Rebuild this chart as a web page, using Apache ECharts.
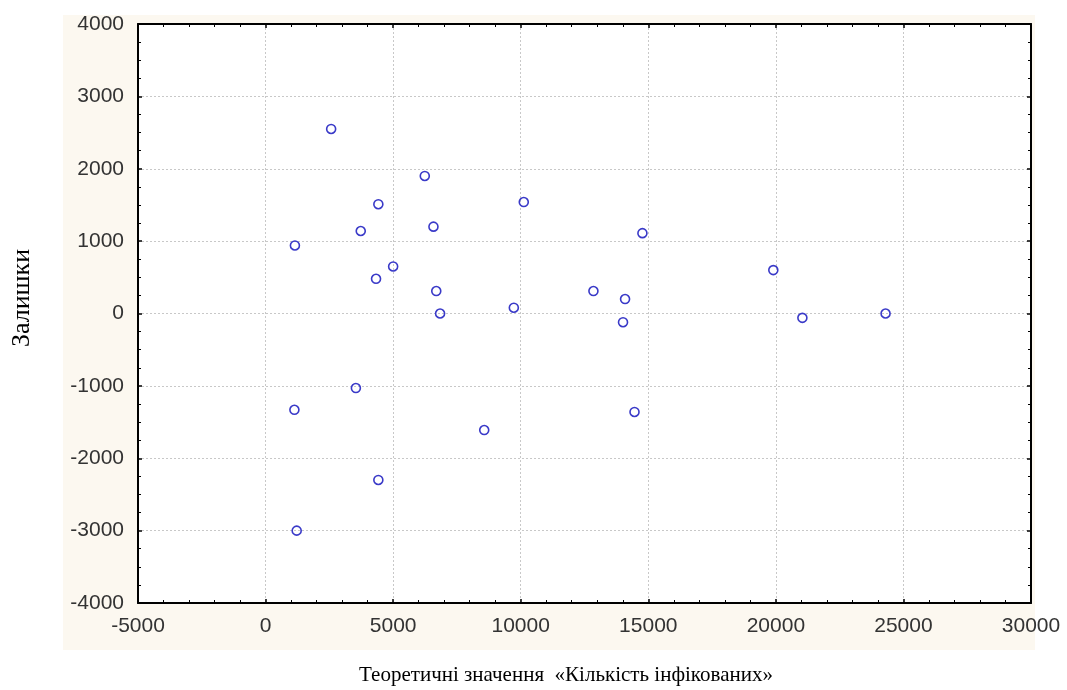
<!DOCTYPE html>
<html>
<head>
<meta charset="utf-8">
<script src="https://cdn.jsdelivr.net/npm/echarts@6/dist/echarts.min.js"></script>
<style>
html,body{margin:0;padding:0;background:#fff;}
#chart{width:1067px;height:690px;}
</style>
</head>
<body>
<div id="chart"></div>
<script>
// Theoretical values (x) and residuals (y)
const theoretical = [2570, 6240, 4420, 10120, 1150, 3730, 6580, 14770, 5000, 4330, 6690, 6840, 9730, 12850, 14090, 14010, 19900, 21040, 24300, 3540, 1130, 8570, 14460, 4420, 1220];
const residuals   = [2550, 1900, 1510, 1540, 940, 1140, 1200, 1110, 650, 480, 310, 0, 80, 310, 200, -120, 600, -60, 0, -1030, -1330, -1610, -1360, -2300, -3000];
const xTicks = [-5000, 0, 5000, 10000, 15000, 20000, 25000, 30000];
const yTicks = [-4000, -3000, -2000, -1000, 0, 1000, 2000, 3000, 4000];
const xTitle = 'Теоретичні значення  «Кількість інфікованих»';
const yTitle = 'Залишки';

const points = theoretical.map((x, i) => [x, residuals[i]]);
const labelFont = {fontFamily: 'Liberation Sans', fontSize: 21, color: '#333'};
const fmt = v => String(v);

function axisBase(opts) {
  return Object.assign({
    type: 'value',
    axisLine: {show: true, onZero: false, lineStyle: {color: '#000', width: 2}},
    axisTick: {show: true, inside: true, length: 4, lineStyle: {color: '#000', width: 1.5}},
    minorTick: {show: true, splitNumber: 5, length: 3, lineStyle: {color: '#000', width: 1}},
    splitLine: {show: false},
    minorSplitLine: {show: false}
  }, opts);
}

const chart = echarts.init(document.getElementById('chart'));
chart.setOption({
  animation: false,
  backgroundColor: '#fff',
  graphic: [
    {type: 'rect', z: -10, shape: {x: 63, y: 15, width: 972, height: 635}, style: {fill: '#fcf8f0'}},
    {type: 'text', x: 566, y: 675, style: {text: xTitle, font: '21px "Liberation Serif"', fill: '#000', textAlign: 'center', textVerticalAlign: 'middle'}},
    {type: 'text', x: 22, y: 298, rotation: Math.PI / 2, style: {text: yTitle, font: '26px "Liberation Serif"', fill: '#000', textAlign: 'center', textVerticalAlign: 'middle'}}
  ],
  grid: {left: 138, right: 36, top: 24, bottom: 87, show: true, backgroundColor: '#fff', borderWidth: 0},
  xAxis: [
    axisBase({
      position: 'bottom', min: xTicks[0], max: xTicks[xTicks.length - 1], interval: 5000,
      axisLabel: Object.assign({margin: 13, formatter: fmt}, labelFont),
      splitLine: {show: true, lineStyle: {color: '#c8c8c8', width: 1, type: [2, 2]}}
    }),
    axisBase({
      position: 'top', min: xTicks[0], max: xTicks[xTicks.length - 1], interval: 5000,
      axisLabel: {show: false}
    })
  ],
  yAxis: [
    axisBase({
      position: 'left', min: yTicks[0], max: yTicks[yTicks.length - 1], interval: 1000,
      minorTick: {show: true, splitNumber: 4, length: 3, lineStyle: {color: '#000', width: 1}},
      axisLabel: Object.assign({margin: 14, formatter: fmt}, labelFont),
      splitLine: {show: true, lineStyle: {color: '#c8c8c8', width: 1, type: [2, 2]}}
    }),
    axisBase({
      position: 'right', min: yTicks[0], max: yTicks[yTicks.length - 1], interval: 1000,
      minorTick: {show: true, splitNumber: 4, length: 3, lineStyle: {color: '#000', width: 1}},
      axisLabel: {show: false}
    })
  ],
  series: [{
    type: 'scatter',
    xAxisIndex: 0, yAxisIndex: 0,
    data: points,
    symbol: 'circle',
    symbolSize: 9,
    itemStyle: {color: 'rgba(255,255,255,0)', borderColor: '#3a3ac8', borderWidth: 1.6, opacity: 1}
  }]
});
</script>
</body>
</html>
